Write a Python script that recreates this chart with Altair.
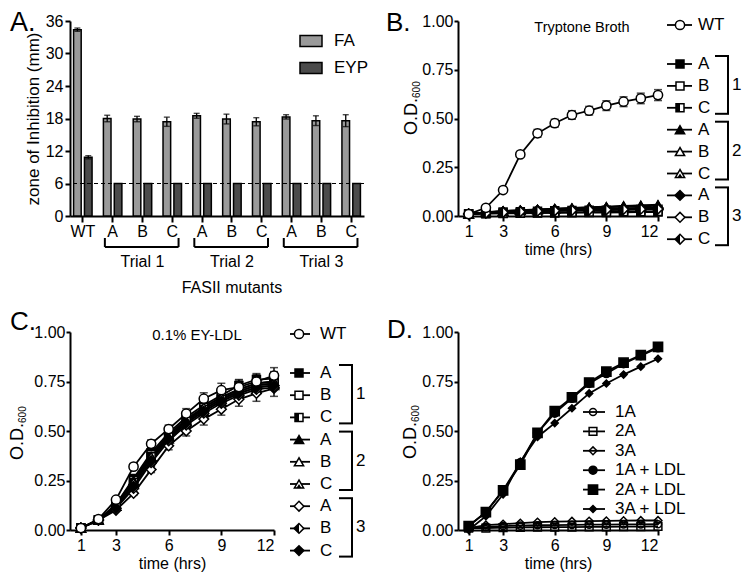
import altair as alt
import pandas as pd

FONT = "Liberation Sans, Arial, sans-serif"

# ---------------- Panel A: zone of inhibition ----------------
a_cats = ["WT", "A1", "B1", "C1", "A2", "B2", "C2", "A3", "B3", "C3"]
a_series = ["FA", "EYP"]
a_fa = [34.4, 18.0, 17.9, 17.4, 18.5, 17.9, 17.4, 18.3, 17.6, 17.6]
a_fa_err = [0.3, 0.6, 0.5, 0.85, 0.45, 0.9, 0.75, 0.4, 0.9, 1.1]
a_eyp = [10.85, 6, 6, 6, 6, 6, 6, 6, 6, 6]
a_eyp_err = [0.3, 0, 0, 0, 0, 0, 0, 0, 0, 0]
a_yticks = [0, 6, 12, 18, 24, 30, 36]
a_cutoff = [6]
a_trials = ["Trial 1", "Trial 2", "Trial 3"]
a_trial_first = ["A1", "A2", "A3"]
a_trial_mid = ["B1", "B2", "B3"]
a_trial_last = ["C1", "C2", "C3"]

# ---------------- Growth curves ----------------
hours = list(range(1, 13))
od_ticks = [0, 0.25, 0.5, 0.75, 1.0]
time_ticks = [1, 3, 6, 9, 12]

bc_names = ["WT", "1A", "1B", "1C", "2A", "2B", "2C", "3A", "3B", "3C"]

b_vals = {
    "WT": [0.01, 0.042, 0.133, 0.316, 0.424, 0.476, 0.518, 0.54, 0.566, 0.586, 0.603, 0.62],
    "1A": [0.01, 0.015, 0.02, 0.022, 0.025, 0.027, 0.028, 0.03, 0.03, 0.032, 0.033, 0.034],
    "1B": [0.01, 0.012, 0.013, 0.014, 0.015, 0.016, 0.017, 0.018, 0.018, 0.019, 0.02, 0.02],
    "1C": [0.01, 0.013, 0.015, 0.016, 0.017, 0.018, 0.019, 0.02, 0.021, 0.022, 0.022, 0.023],
    "2A": [0.01, 0.02, 0.026, 0.03, 0.034, 0.038, 0.041, 0.045, 0.048, 0.052, 0.055, 0.058],
    "2B": [0.01, 0.018, 0.024, 0.028, 0.032, 0.035, 0.038, 0.042, 0.045, 0.048, 0.05, 0.052],
    "2C": [0.01, 0.019, 0.025, 0.029, 0.033, 0.036, 0.04, 0.043, 0.046, 0.05, 0.053, 0.055],
    "3A": [0.01, 0.018, 0.022, 0.026, 0.03, 0.032, 0.034, 0.036, 0.038, 0.04, 0.041, 0.042],
    "3B": [0.01, 0.016, 0.02, 0.024, 0.027, 0.03, 0.032, 0.034, 0.035, 0.037, 0.038, 0.039],
    "3C": [0.01, 0.015, 0.019, 0.022, 0.025, 0.027, 0.029, 0.031, 0.032, 0.034, 0.035, 0.036],
}
b_errs = {
    "WT": [0.005, 0.005, 0.008, 0.01, 0.02, 0.02, 0.022, 0.022, 0.025, 0.025, 0.027, 0.028],
}

c_vals = {
    "WT": [0.01, 0.055, 0.153, 0.32, 0.435, 0.51, 0.588, 0.663, 0.706, 0.722, 0.75, 0.78],
    "1A": [0.01, 0.05, 0.13, 0.26, 0.39, 0.49, 0.57, 0.63, 0.68, 0.73, 0.76, 0.765],
    "1B": [0.01, 0.05, 0.13, 0.25, 0.38, 0.48, 0.56, 0.62, 0.67, 0.71, 0.74, 0.75],
    "1C": [0.01, 0.05, 0.12, 0.24, 0.37, 0.47, 0.55, 0.61, 0.66, 0.70, 0.73, 0.74],
    "2A": [0.01, 0.05, 0.12, 0.25, 0.37, 0.47, 0.55, 0.61, 0.66, 0.70, 0.73, 0.74],
    "2B": [0.01, 0.05, 0.12, 0.23, 0.36, 0.46, 0.54, 0.60, 0.65, 0.69, 0.72, 0.73],
    "2C": [0.01, 0.05, 0.12, 0.24, 0.37, 0.47, 0.55, 0.62, 0.67, 0.71, 0.74, 0.75],
    "3A": [0.01, 0.05, 0.10, 0.185, 0.305, 0.425, 0.50, 0.56, 0.61, 0.66, 0.69, 0.715],
    "3B": [0.01, 0.05, 0.11, 0.21, 0.34, 0.45, 0.53, 0.59, 0.64, 0.68, 0.71, 0.72],
    "3C": [0.01, 0.05, 0.11, 0.22, 0.35, 0.46, 0.54, 0.60, 0.65, 0.69, 0.72, 0.73],
}
c_errs = {
    "WT": [0.005, 0.008, 0.01, 0.015, 0.02, 0.02, 0.025, 0.03, 0.035, 0.035, 0.035, 0.04],
    "1A": [0, 0, 0.01, 0.015, 0.02, 0.02, 0.025, 0.03, 0.03, 0.03, 0.03, 0.035],
    "3A": [0, 0, 0.005, 0.01, 0.015, 0.02, 0.025, 0.03, 0.03, 0.035, 0.04, 0.04],
}

d_names = ["1A", "2A", "3A", "1A + LDL", "2A + LDL", "3A + LDL"]
d_vals = {
    "1A": [0.01, 0.015, 0.02, 0.022, 0.024, 0.025, 0.026, 0.027, 0.027, 0.028, 0.028, 0.029],
    "2A": [0.01, 0.01, 0.012, 0.013, 0.014, 0.015, 0.015, 0.016, 0.016, 0.017, 0.017, 0.018],
    "3A": [0.01, 0.025, 0.03, 0.035, 0.04, 0.042, 0.044, 0.045, 0.046, 0.047, 0.048, 0.048],
    "1A + LDL": [0.02, 0.09, 0.2, 0.34, 0.49, 0.59, 0.665, 0.74, 0.79, 0.84, 0.88, 0.92],
    "2A + LDL": [0.02, 0.09, 0.2, 0.33, 0.49, 0.6, 0.67, 0.745, 0.8, 0.845, 0.883, 0.925],
    "3A + LDL": [0.0, 0.07, 0.18, 0.345, 0.47, 0.54, 0.615, 0.69, 0.74, 0.785, 0.825, 0.865],
}

HALF_SQ = "M-1,-1H0V1H-1Z"
HALF_DIA = "M-1,0L0,-1L0,1Z"
IN_TRI = "M0,0L0.55,0.866L-0.55,0.866Z"

b_style = {
    "WT": ("circle", "white", 85, None),
    "1A": ("square", "black", 64, None),
    "1B": ("square", "white", 64, None),
    "1C": ("square", "white", 64, HALF_SQ),
    "2A": ("triangle-up", "black", 85, None),
    "2B": ("triangle-up", "white", 85, None),
    "2C": ("triangle-up", "white", 85, IN_TRI),
    "3A": ("diamond", "black", 95, None),
    "3B": ("diamond", "white", 95, None),
    "3C": ("diamond", "white", 95, HALF_DIA),
}
c_style = dict(b_style)
c_style["3A"] = ("diamond", "white", 95, None)
c_style["3B"] = ("diamond", "white", 95, HALF_DIA)
c_style["3C"] = ("diamond", "black", 95, None)

d_style = {
    "1A": ("circle", "transparent", 50, None),
    "2A": ("square", "transparent", 60, None),
    "3A": ("diamond", "transparent", 60, None),
    "1A + LDL": ("circle", "black", 64, None),
    "2A + LDL": ("square", "black", 85, None),
    "3A + LDL": ("diamond", "black", 50, None),
}


def dummy():
    return alt.Chart(pd.DataFrame({"k": [0]}))


def text_at(txt, x, y, size=16, align="left", baseline="middle", angle=0):
    props = dict(text=txt, fontSize=size, align=align, baseline=baseline,
                 color="black", font=FONT)
    if angle:
        props["angle"] = angle
    return dummy().mark_text(**props).encode(x=alt.value(x), y=alt.value(y))


def od_title(xb, ybot, big=18, small=10):
    w = 2.056 * big
    return [
        text_at("O.D.", xb, ybot, size=big, align="left", baseline="alphabetic", angle=270),
        text_at("600", xb + 3, ybot - w, size=small, align="left", baseline="alphabetic", angle=270),
    ]


# ---------------- Panel A chart ----------------
W_A, H_A = 294, 195
rows = []
for c, fa, fe, ey, ee in zip(a_cats, a_fa, a_fa_err, a_eyp, a_eyp_err):
    rows.append({"cat": c, "series": "FA", "value": fa, "err": fe, "lo": fa - fe, "hi": fa + fe})
    rows.append({"cat": c, "series": "EYP", "value": ey, "err": ee, "lo": ey - ee, "hi": ey + ee})
dfa = pd.DataFrame(rows)
dfa_err = dfa[dfa["err"] > 0]

xa_scale = alt.Scale(domain=a_cats, paddingInner=0.38, paddingOuter=0.12)
ya_scale = alt.Scale(domain=[0, 36], nice=False)
xa_axis = alt.Axis(title="", labelAngle=0, tickSize=6, labelPadding=1,
                   labelExpr="datum.value == 'WT' ? 'WT' : slice(datum.value, 0, 1)")
ya_axis = alt.Axis(values=a_yticks, title="zone of Inhibition (mm)", titleFontSize=17,
                   titlePadding=3)
xoff = alt.XOffset("series:N", scale=alt.Scale(domain=a_series, paddingInner=0.3, paddingOuter=0))


def XA(field, bp=None):
    if bp is None:
        return alt.X(field, scale=xa_scale, axis=xa_axis)
    return alt.X(field, scale=xa_scale, axis=xa_axis, bandPosition=bp)


def YA(field):
    return alt.Y(field, scale=ya_scale, axis=ya_axis)


bars = alt.Chart(dfa).mark_bar(stroke="black", strokeWidth=1.5).encode(
    x=XA("cat:N"),
    xOffset=xoff,
    y=YA("value:Q"),
    fill=alt.Fill("series:N", scale=alt.Scale(domain=a_series, range=["#9a9a9a", "#4b4b4b"]),
                  legend=alt.Legend(title=None, orient="none", legendX=229, legendY=8,
                                    symbolType="M-1,-0.5H1V0.5H-1Z", symbolSize=484,
                                    symbolStrokeColor="black", symbolStrokeWidth=1.5,
                                    symbolOpacity=1, labelFontSize=17, labelFont=FONT,
                                    labelColor="black", labelOffset=11, rowPadding=6,
                                    padding=0)),
)
err_rule = alt.Chart(dfa_err).mark_rule(color="black", strokeWidth=1.3).encode(
    x=XA("cat:N"), xOffset=xoff, y=YA("lo:Q"), y2="hi:Q")
caps = [alt.Chart(dfa_err).mark_tick(orient="horizontal", color="black", thickness=1.4, size=6).encode(
    x=XA("cat:N"), xOffset=xoff, y=YA(f + ":Q")) for f in ["lo", "hi"]]
cut = alt.Chart(pd.DataFrame({"cut": a_cutoff})).mark_rule(
    color="black", strokeWidth=1, strokeDash=[4, 3]).encode(y=YA("cut:Q"))

dft = pd.DataFrame({"cat": a_trial_first, "cat_end": a_trial_last, "mid": a_trial_mid, "label": a_trials})
br_bottom = alt.Chart(dft).mark_rule(color="black", strokeWidth=2).encode(
    x=XA("cat:N", 0.08),
    x2=alt.X2("cat_end:N", bandPosition=0.84),
    y=alt.value(H_A + 31))
br_left = alt.Chart(dft).mark_rule(color="black", strokeWidth=2).encode(
    x=XA("cat:N", 0.08), y=alt.value(H_A + 22), y2=alt.value(H_A + 31))
br_right = alt.Chart(dft).mark_rule(color="black", strokeWidth=2).encode(
    x=XA("cat_end:N", 0.84), y=alt.value(H_A + 22), y2=alt.value(H_A + 31))
tr_text = alt.Chart(dft).mark_text(fontSize=16, font=FONT, color="black", baseline="middle").encode(
    x=XA("mid:N"), y=alt.value(H_A + 46), text="label:N")
fas_text = alt.Chart(pd.DataFrame({"mid": ["B2"], "label": ["FASII mutants"]})).mark_text(
    fontSize=16, font=FONT, color="black", baseline="middle").encode(
    x=XA("mid:N"), y=alt.value(H_A + 72), text="label:N")

panel_a = alt.layer(
    bars, cut, err_rule, *caps, br_bottom, br_left, br_right, tr_text, fas_text,
    text_at("A.", -60, -11, size=27, baseline="top"),
).properties(width=W_A, height=H_A)


# ---------------- Growth panel builder ----------------
def growth_panel(names, vals, errs, style, W, H, legend_rows, geo, brackets,
                 ytitle, letter, title=None):
    rows = []
    for n in names:
        e = errs.get(n, [0] * len(hours))
        for t, v, ee in zip(hours, vals[n], e):
            rows.append({"series": n, "t": t, "v": v, "lo": v - ee, "hi": v + ee, "err": ee})
    df = pd.DataFrame(rows)
    xs = alt.Scale(domain=[0.38, 12], nice=False, zero=False)
    ys = alt.Scale(domain=[0, 1], nice=False)
    xax = alt.Axis(values=time_ticks, format="d", title="time (hrs)", titlePadding=2)
    yax = alt.Axis(values=od_ticks, format=".2f", title="", tickSize=4, labelPadding=1)

    def X():
        return alt.X("t:Q", scale=xs, axis=xax)

    def Y(f="v:Q"):
        return alt.Y(f, scale=ys, axis=yax)

    layers = [alt.Chart(df).mark_line(color="black", strokeWidth=1.8).encode(
        x=X(), y=Y(), detail="series:N")]
    dfe = df[df["err"] > 0]
    if len(dfe):
        layers.append(alt.Chart(dfe).mark_rule(color="black", strokeWidth=1.4).encode(
            x=X(), y=Y("lo:Q"), y2="hi:Q"))
        for f in ["lo", "hi"]:
            layers.append(alt.Chart(dfe).mark_tick(orient="horizontal", color="black",
                                                   thickness=1.5, size=8).encode(
                x=X(), y=Y(f + ":Q")))
    order = [n for n in names if n != "WT"] + (["WT"] if "WT" in names else [])
    for n in order:
        shape, fill, size, over = style[n]
        sub = df[df["series"] == n]
        layers.append(alt.Chart(sub).mark_point(
            shape=shape, size=size, filled=True, fill=fill, stroke="black",
            strokeWidth=1.5, opacity=1).encode(x=X(), y=Y()))
        if over:
            layers.append(alt.Chart(sub).mark_point(
                shape=over, size=size, filled=True, fill="black", strokeWidth=0,
                opacity=1).encode(x=X(), y=Y()))
    # legend
    for n, label, ly in legend_rows:
        shape, fill, size, over = style[n]
        layers.append(dummy().mark_rule(color="black", strokeWidth=1.8).encode(
            x=alt.value(geo["lx1"]), x2=alt.value(geo["lx2"]), y=alt.value(ly)))
        layers.append(dummy().mark_point(
            shape=shape, size=size, filled=True, fill=fill, stroke="black",
            strokeWidth=1.5, opacity=1).encode(x=alt.value(geo["cx"]), y=alt.value(ly)))
        if over:
            layers.append(dummy().mark_point(
                shape=over, size=size, filled=True, fill="black", strokeWidth=0,
                opacity=1).encode(x=alt.value(geo["cx"]), y=alt.value(ly)))
        layers.append(text_at(label, geo["tx"], ly, size=17))
    for label, ytop, ybot in brackets:
        bx = geo["bx"]
        layers.append(dummy().mark_rule(color="black", strokeWidth=2).encode(
            x=alt.value(bx), y=alt.value(ytop), y2=alt.value(ybot)))
        for yy in (ytop, ybot):
            layers.append(dummy().mark_rule(color="black", strokeWidth=2).encode(
                x=alt.value(geo["btick"]), x2=alt.value(bx + 1), y=alt.value(yy)))
        layers.append(text_at(label, geo["nx"], (ytop + ybot) / 2, size=17))
    layers += od_title(*ytitle)
    layers.append(text_at(letter[0], letter[1], letter[2], size=26, baseline="top"))
    if title:
        layers.append(text_at(title[0], title[1], title[2], size=title[3], align="center"))
    return alt.layer(*layers).properties(width=W, height=H)


def bc_legend(wt_y, first_y, step):
    rows = [("WT", "WT", wt_y)]
    i = 0
    for n in bc_names[1:]:
        rows.append((n, n[1], first_y + i * step))
        i += 1
    brs = []
    for g in range(3):
        y0 = first_y + 3 * g * step
        y1 = first_y + (3 * g + 2) * step
        brs.append((str(g + 1), y0 - 8, y1 + 6))
    return rows, brs


W_B, H_B = 200, 195
b_rows, b_brs = bc_legend(4, 43, 21.9)
panel_b = growth_panel(
    bc_names, b_vals, b_errs, b_style, W_B, H_B, b_rows,
    dict(lx1=209, lx2=234, cx=222, tx=240, bx=270, btick=257, nx=274), b_brs,
    (-41, 114), ("B.", -72, -11), title=("Tryptone Broth", 124, 7, 14.5))

W_C, H_C = 204, 198
c_rows, c_brs = bc_legend(2, 41, 22.2)
panel_c = growth_panel(
    bc_names, c_vals, c_errs, c_style, W_C, H_C, c_rows,
    dict(lx1=220, lx2=240, cx=229, tx=250, bx=282, btick=269, nx=286), c_brs,
    (-47, 128), ("C.", -60, -23), title=("0.1% EY-LDL", 127, 3, 15))

W_D, H_D = 200, 198
d_rows = [(n, n, 80 + i * 19.4) for i, n in enumerate(d_names)]
panel_d = growth_panel(
    d_names, d_vals, {}, d_style, W_D, H_D, d_rows,
    dict(lx1=125, lx2=147, cx=135, tx=157, bx=0, btick=0, nx=0), [],
    (-42, 127), ("D.", -71, -15))

chart = alt.concat(panel_a, panel_b, panel_c, panel_d, columns=2,
                   spacing={"row": 116, "column": 94}).properties(
    bounds="flush", align="each", padding=0
).configure(font=FONT).configure_view(stroke="transparent").configure_axis(
    domainColor="black", domainWidth=2, tickColor="black", tickWidth=2, tickSize=5,
    labelColor="black", labelFontSize=16, labelFont=FONT, titleColor="black",
    titleFontSize=16, titleFont=FONT, titleFontWeight="normal", grid=False, labelPadding=2
)

chart.save("out.html", embed_options={"renderer": "svg", "actions": False})
